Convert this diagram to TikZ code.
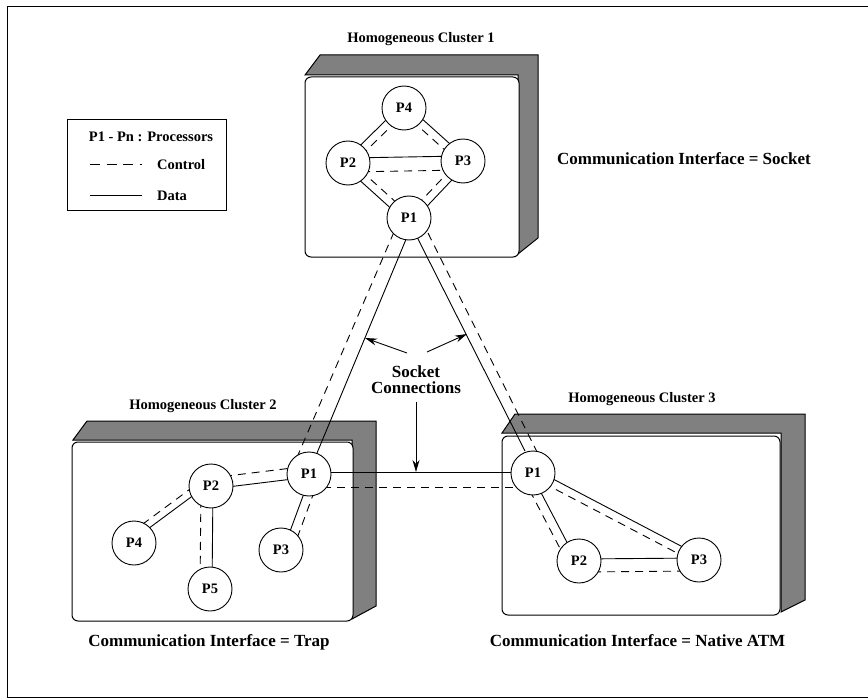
\documentclass[tikz,border=0pt]{standalone}
\usepackage{fontspec}
\setmainfont{Liberation Serif}
\usetikzlibrary{calc,arrows.meta}
\pgfdeclarelayer{boxes}
\pgfdeclarelayer{edges}
\pgfsetlayers{boxes,edges,main}
\definecolor{shadowgray}{RGB}{128,128,128}
\newcommand{\edgepair}[4]{%
  \draw[dataline] ($(#1.center)!#3pt!90:(#2.center)$) -- ($(#2.center)!#3pt!-90:(#1.center)$);
  \draw[ctrlline] ($(#1.center)!#4pt!90:(#2.center)$) -- ($(#2.center)!#4pt!-90:(#1.center)$);}
\begin{document}
\begin{tikzpicture}[x=1pt,y=-1pt,
  proc/.style={circle,draw,fill=white,line width=0.9pt,minimum size=44pt,inner sep=0pt,font=\fontsize{14.5}{17}\selectfont\bfseries},
  dataline/.style={line width=0.9pt},
  ctrlline/.style={line width=0.9pt,dash pattern=on 8pt off 6pt},
  boxline/.style={line width=1pt},
  title/.style={anchor=base,font=\fontsize{14.5}{17}\selectfont\bfseries,inner sep=0pt},
  iface/.style={anchor=base,font=\fontsize{17}{20}\selectfont\bfseries,inner sep=0pt},
  pointer/.style={line width=0.9pt,-{Stealth[length=12pt,width=7pt]}}
]
\useasboundingbox (0,0) rectangle (868,698);
\draw[line width=1pt] (870,6.5) -- (7.5,6.5) -- (7.5,697) -- (870,697);

% processors
\node[proc] (a4) at (404,108) {P4};
\node[proc] (a2) at (348,163) {P2};
\node[proc] (a3) at (463,161) {P3};
\node[proc] (a1) at (409,218) {P1};
\node[proc] (b1) at (309,474) {P1};
\node[proc] (b2) at (211,486) {P2};
\node[proc] (b3) at (281,550) {P3};
\node[proc] (b4) at (134,543) {P4};
\node[proc] (b5) at (210,589) {P5};
\node[proc] (c1) at (533,473) {P1};
\node[proc] (c2) at (579,561) {P2};
\node[proc] (c3) at (699,560) {P3};

% cluster boxes
\begin{pgfonlayer}{boxes}
\draw[boxline,fill=shadowgray] (305,75) -- (320,55) -- (538,55) -- (538,238) -- (518,254) -- (518,75) -- cycle;
\draw[boxline,fill=white,rounded corners=6pt] (305,77) rectangle (519,257);
\draw[boxline,fill=shadowgray] (73,440) -- (87,421) -- (376,421) -- (376,606) -- (352,619) -- (352,440) -- cycle;
\draw[boxline,fill=white,rounded corners=6pt] (72,442) rectangle (353,621);
\draw[boxline,fill=shadowgray] (502,433) -- (515,414) -- (805,414) -- (805,600) -- (781,612) -- (781,433) -- cycle;
\draw[boxline,fill=white,rounded corners=6pt] (502,436) rectangle (780,615);
\end{pgfonlayer}

% connections
\begin{pgfonlayer}{edges}
\edgepair{a2}{a3}{5}{-9}
\edgepair{a4}{a2}{-4}{4}
\edgepair{a4}{a3}{4}{-4}
\edgepair{a2}{a1}{-5}{3}
\edgepair{a3}{a1}{5}{-3}
\edgepair{b2}{b1}{-3}{8}
\edgepair{b2}{b4}{-3}{-10}
\edgepair{b2}{b5}{2}{-10}
\edgepair{b1}{b3}{2}{11}
\edgepair{c1}{c3}{4}{-4}
\edgepair{c1}{c2}{-2}{-11}
\edgepair{c2}{c3}{2}{-11}
\draw[dataline] ([shift={(-2,19)}]a1.center) -- ([shift={(8,-21)}]b1.center);
\draw[ctrlline] ([shift={(-15,14)}]a1.center) -- ([shift={(-11,-19)}]b1.center);
\draw[dataline] ([shift={(8,19)}]a1.center) -- ([shift={(-8,-22)}]c1.center);
\draw[ctrlline] ([shift={(19,15)}]a1.center) -- ([shift={(4,-21)}]c1.center);
\draw[dataline] ([shift={(0,-2)}]b1.center) -- ([shift={(0,-1)}]c1.center);
\draw[ctrlline] ([shift={(0,13)}]b1.center) -- ([shift={(0,14)}]c1.center);
\end{pgfonlayer}

% legend
\node[draw,line width=0.9pt,minimum width=159pt,minimum height=91pt,inner sep=0pt] (legend) at (146.5,164.5) {};
\node[title] (lgtitle) at (151,142) {P1 - Pn : Processors};
\coordinate (ls1) at (90,164);
\coordinate (le1) at (142,164);
\draw[line width=0.9pt,dash pattern=on 10pt off 6.5pt] (ls1) -- (le1);
\node[title,anchor=base west] (lgctrl) at (157,170) {Control};
\coordinate (ls2) at (90,195);
\coordinate (le2) at (142,195);
\draw[dataline] (ls2) -- (le2);
\node[title,anchor=base west] (lgdata) at (157,200.5) {Data};

% titles
\node[title] (t1) at (421,43) {Homogeneous Cluster 1};
\node[title] (t2) at (203,409) {Homogeneous Cluster 2};
\node[title] (t3) at (642,402) {Homogeneous Cluster 3};
\node[iface] (i1) at (684,165) {Communication Interface = Socket};
\node[iface] (i2) at (209,646.5) {Communication Interface = Trap};
\node[iface] (i3) at (637.5,646.5) {Communication Interface = Native ATM};
\node[iface,anchor=center,align=center,font=\fontsize{17}{16}\selectfont\bfseries] (sock) at (416,379.5) {Socket\\Connections};

% pointers
\coordinate (s1) at (407,353);
\coordinate (e1) at (365,338);
\coordinate (s2) at (427,352);
\coordinate (e2) at (467,334);
\coordinate (s3) at (416,402);
\coordinate (e3) at (416,472);
\draw[pointer] (s1) -- (e1);
\draw[pointer] (s2) -- (e2);
\draw[pointer] (s3) -- (e3);
\end{tikzpicture}
\end{document}
